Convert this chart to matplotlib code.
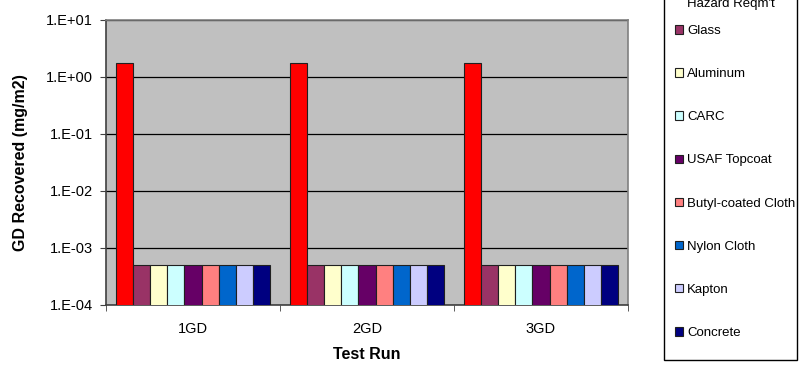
import numpy as np
import matplotlib
matplotlib.use("Agg")
import matplotlib.pyplot as plt
from matplotlib.patches import Rectangle
from matplotlib.ticker import FixedLocator, FuncFormatter

plt.rcParams['font.family'] = ['Liberation Sans', 'DejaVu Sans']

# data
runs = ["1GD", "2GD", "3GD"]
materials = ["Contact\nHazard Reqm't", "Glass", "Aluminum", "CARC", "USAF Topcoat",
             "Butyl-coated Cloth", "Nylon Cloth", "Kapton", "Concrete"]
hazard_reqmt = [1.7, 1.7, 1.7]
glass = [5e-4, 5e-4, 5e-4]
aluminum = [5e-4, 5e-4, 5e-4]
carc = [5e-4, 5e-4, 5e-4]
usaf_topcoat = [5e-4, 5e-4, 5e-4]
butyl_cloth = [5e-4, 5e-4, 5e-4]
nylon_cloth = [5e-4, 5e-4, 5e-4]
kapton = [5e-4, 5e-4, 5e-4]
concrete = [5e-4, 5e-4, 5e-4]
series = [hazard_reqmt, glass, aluminum, carc, usaf_topcoat,
          butyl_cloth, nylon_cloth, kapton, concrete]
colors = ["#FF0000", "#993366", "#FFFFCC", "#CCFFFF", "#660066",
          "#FF8080", "#0066CC", "#CCCCFF", "#000080"]
yticks = [1e-4, 1e-3, 1e-2, 1e-1, 1e0, 1e1]

W, H = 808, 370
fig = plt.figure(figsize=(W / 100, H / 100), dpi=100)
ax = fig.add_axes([106 / W, (H - 305) / H, (628 - 106) / W, (305 - 19.5) / H])
ax.set_facecolor("#C0C0C0")

n = len(series)
bw = 0.88 / n
x = np.arange(len(runs))
handles = []
for i, (vals, c) in enumerate(zip(series, colors)):
    pos = x - 0.44 + bw * (i + 0.5)
    b = ax.bar(pos, vals, width=bw, color=c, edgecolor="#202020", linewidth=0.8, zorder=3)
    handles.append(b)

ax.set_yscale("log")
ax.set_ylim(1e-4, 1e1)
ax.set_xlim(-0.5, len(runs) - 0.5)
ax.yaxis.set_major_locator(FixedLocator(yticks))
ax.yaxis.set_minor_locator(FixedLocator([]))
ax.yaxis.set_major_formatter(FuncFormatter(lambda v, p: "1.E%+03d" % int(round(np.log10(v)))))
ax.grid(axis="y", color="black", linewidth=0.9, zorder=1)

ax.set_xticks(x)
ax.set_xticklabels(runs)
ax.set_xticks(np.arange(len(runs) + 1) - 0.5, minor=True)
ax.tick_params(axis="x", which="major", length=0, pad=12, labelsize=10.5)
ax.tick_params(axis="x", which="minor", length=4.3, color="#404040")
ax.tick_params(axis="y", length=4.3, color="#404040", labelsize=10.5, pad=5)

for s in ax.spines.values():
    s.set_color("#808080")
    s.set_linewidth(1.2)
ax.spines["left"].set_color("#404040")
ax.spines["bottom"].set_color("#404040")

ax.set_xlabel("Test Run", fontweight="bold", fontsize=11.5, labelpad=8)
ax.set_ylabel("GD Recovered (mg/m2)", fontweight="bold", fontsize=11.5, labelpad=13)

# legend box, partly cut off at the top like the reference
fig.patches.append(Rectangle((664 / W, 10 / H), (797 - 664) / W, (H + 20) / H,
                             transform=fig.transFigure, facecolor="white",
                             edgecolor="black", linewidth=1.0, zorder=0))
leg_kw = dict(loc="lower left", frameon=False, fontsize=9.5, handlelength=0.6,
              handleheight=0.6, handletextpad=0.3, borderpad=0, borderaxespad=0)
# first (two-line) entry sits mostly above the top edge
leg1 = fig.legend(handles[:1], materials[:1], bbox_to_anchor=(675 / W, (H - 10) / H), **leg_kw)
leg1.get_texts()[0].set_linespacing(1.9)
fig.legend(handles[1:], materials[1:], bbox_to_anchor=(675 / W, 31 / H),
           labelspacing=2.36, **leg_kw)

fig.savefig("out.png", dpi=100)
